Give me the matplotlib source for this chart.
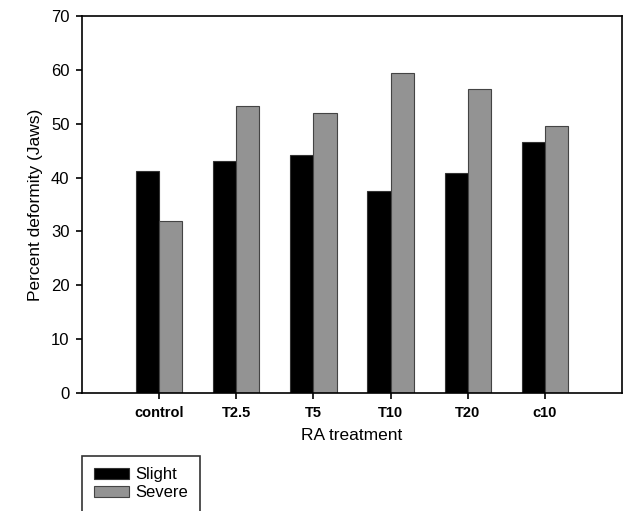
import numpy as np
import matplotlib.pyplot as plt

# data
treatments = ["control", "T2.5", "T5", "T10", "T20", "c10"]
slight = [41.2, 43.0, 44.1, 37.5, 40.9, 46.6]
severe = [32.0, 53.2, 52.0, 59.5, 56.4, 49.6]

plt.rcParams["font.family"] = ["Liberation Sans", "DejaVu Sans"]

fig = plt.figure(figsize=(6.29, 5.11), dpi=100)
ax = fig.add_axes([0.1304, 0.2309, 0.8585, 0.7378])

x = np.arange(len(treatments))
w = 0.3
ax.bar(x - w / 2, slight, w, color="black", edgecolor="#333333", linewidth=0.8, label="Slight")
ax.bar(x + w / 2, severe, w, color="#939393", edgecolor="#444444", linewidth=0.8, label="Severe")

ax.set_xlim(-1, 6)
ax.set_ylim(0, 70)
ax.set_yticks(range(0, 71, 10))
ax.set_xticks(x)
ax.set_xticklabels(treatments, fontsize=10.5, fontweight="bold")
ax.tick_params(axis="y", labelsize=12, length=4, width=1.2, direction="out", pad=5)
ax.tick_params(axis="x", length=4, width=1.2, direction="out", pad=5)
for s in ax.spines.values():
    s.set_linewidth(1.2)

ax.set_xlabel("RA treatment", fontsize=12.5, labelpad=6)
ax.set_ylabel("Percent deformity (Jaws)", fontsize=12.5, labelpad=6)

leg = fig.legend(loc="upper left", bbox_to_anchor=(0.1304, 0.108), fontsize=12,
                 frameon=True, fancybox=False, borderaxespad=0, borderpad=0.7,
                 handlelength=2.1, handleheight=0.66, handletextpad=0.4,
                 labelspacing=0.15)
leg.get_frame().set_edgecolor("black")
leg.get_frame().set_linewidth(1.2)

plt.savefig("out.png", dpi=100)
